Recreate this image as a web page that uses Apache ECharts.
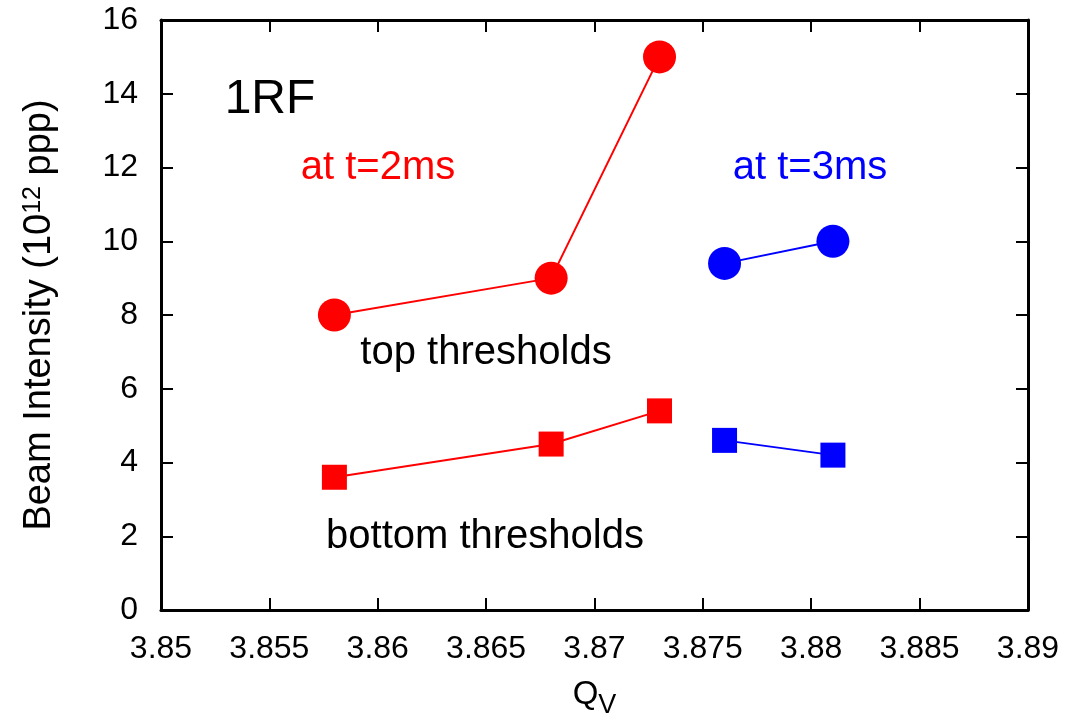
<!DOCTYPE html>
<html>
<head>
<meta charset="utf-8">
<script src="https://cdn.jsdelivr.net/npm/echarts@6/dist/echarts.min.js"></script>
<style>html,body{margin:0;padding:0;background:#fff;}#c{width:1070px;height:717px;}</style>
</head>
<body>
<div id="c"></div>
<script>
// Data
const qRed = [3.858, 3.868, 3.873];
const qBlue = [3.876, 3.881];
const topRed = [8, 9, 15];
const topBlue = [9.4, 10];
const bottomRed = [3.6, 4.5, 5.4];
const bottomBlue = [4.6, 4.2];

const xMin = 3.85, xMax = 3.89, xStep = 0.005;
const yMin = 0, yMax = 16, yStep = 2;

const FONT = '"Liberation Sans", Arial, Helvetica, sans-serif';
const RED = '#ff0000', BLUE = '#0000ff';

function pairs(xs, ys) { return xs.map((x, i) => [x, ys[i]]); }

const chart = echarts.init(document.getElementById('c'), null, {renderer: 'canvas'});

const axisLine = {show: true, onZero: false, lineStyle: {color: '#000', width: 3}};
const axisTick = {show: true, inside: true, length: 12, lineStyle: {color: '#000', width: 2}};

function lineSeries(name, data, color, symbol, size) {
  return {
    name, type: 'line', data, symbol, symbolSize: size,
    xAxisIndex: 0, yAxisIndex: 0,
    itemStyle: {color: color, borderWidth: 0},
    lineStyle: {color: color, width: 2},
    showSymbol: true, animation: false, z: 3
  };
}

const option = {
  backgroundColor: '#fff',
  animation: false,
  grid: {left: 161, right: 42, top: 20, bottom: 107, containLabel: false, outerBoundsMode: 'none'},
  xAxis: [
    {
      type: 'value', min: xMin, max: xMax, interval: xStep, position: 'bottom',
      axisLine, axisTick, splitLine: {show: false},
      axisLabel: {
        fontSize: 32, color: '#000', fontFamily: FONT, margin: 23,
        formatter: v => String(parseFloat(v.toFixed(3)))
      },
      name: '{q|Q}{sub|V}', nameLocation: 'middle', nameGap: 68,
      nameTextStyle: {
        fontSize: 33, color: '#000', fontFamily: FONT,
        rich: {
          q: {fontSize: 33, color: '#000', fontFamily: FONT, verticalAlign: 'top'},
          sub: {fontSize: 27, color: '#000', fontFamily: FONT, verticalAlign: 'bottom', padding: [14, 0, 0, 0]}
        }
      }
    },
    {
      type: 'value', min: xMin, max: xMax, interval: xStep, position: 'top',
      axisLine, axisTick, splitLine: {show: false}, axisLabel: {show: false}
    }
  ],
  yAxis: [
    {
      type: 'value', min: yMin, max: yMax, interval: yStep, position: 'left',
      axisLine, axisTick, splitLine: {show: false},
      axisLabel: {fontSize: 32, color: '#000', fontFamily: FONT, margin: 23},
      name: 'Beam Intensity (10{sup|12} ppp)', nameLocation: 'middle', nameGap: 102, nameRotate: 90,
      nameTextStyle: {
        fontSize: 38, color: '#000', fontFamily: FONT,
        rich: {sup: {fontSize: 25, color: '#000', fontFamily: FONT, verticalAlign: 'top'}}
      }
    },
    {
      type: 'value', min: yMin, max: yMax, interval: yStep, position: 'right',
      axisLine, axisTick, splitLine: {show: false}, axisLabel: {show: false}
    }
  ],
  series: [
    lineSeries('top 2ms', pairs(qRed, topRed), RED, 'circle', 33),
    lineSeries('top 3ms', pairs(qBlue, topBlue), BLUE, 'circle', 33),
    lineSeries('bottom 2ms', pairs(qRed, bottomRed), RED, 'rect', 25),
    lineSeries('bottom 3ms', pairs(qBlue, bottomBlue), BLUE, 'rect', 25)
  ],
  graphic: [
    {type: 'text', x: 270, y: 100, style: {text: '1RF', fontSize: 48, fill: '#000', fontFamily: FONT, align: 'center', verticalAlign: 'middle'}},
    {type: 'text', x: 378, y: 168, style: {text: 'at t=2ms', fontSize: 40, fill: RED, fontFamily: FONT, align: 'center', verticalAlign: 'middle'}},
    {type: 'text', x: 810, y: 168, style: {text: 'at t=3ms', fontSize: 40, fill: BLUE, fontFamily: FONT, align: 'center', verticalAlign: 'middle'}},
    {type: 'text', x: 486, y: 353, style: {text: 'top thresholds', fontSize: 40, fill: '#000', fontFamily: FONT, align: 'center', verticalAlign: 'middle'}},
    {type: 'text', x: 485, y: 537, style: {text: 'bottom thresholds', fontSize: 40, fill: '#000', fontFamily: FONT, align: 'center', verticalAlign: 'middle'}}
  ]
};
chart.setOption(option);
</script>
</body>
</html>
